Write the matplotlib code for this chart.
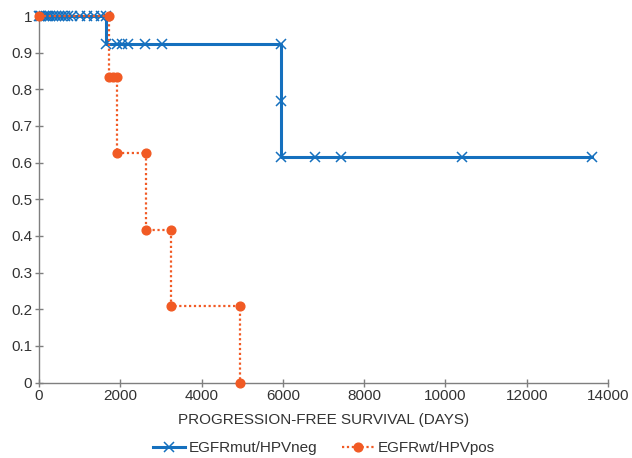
import matplotlib
matplotlib.use("Agg")
import matplotlib.pyplot as plt

plt.rcParams['font.family'] = ['Liberation Sans', 'DejaVu Sans']

# EGFRmut/HPVneg step vertices (days, survival)
mut_x = [0, 25, 60, 123, 170, 221, 280, 344, 420, 492, 560, 640, 720, 812, 1009, 1181, 1353, 1526,
         1650, 1650, 1919, 2042, 2190, 2608, 3027, 5960, 5960, 5960, 6791, 7431, 10408, 13607]
mut_y = [1, 1, 1, 1, 1, 1, 1, 1, 1, 1, 1, 1, 1, 1, 1, 1, 1, 1,
         1, 0.923, 0.923, 0.923, 0.923, 0.923, 0.923, 0.923, 0.769, 0.615, 0.615, 0.615, 0.615, 0.615]

# EGFRwt/HPVpos step vertices (days, survival)
wt_x = [0, 1722, 1722, 1820, 1920, 1920, 2630, 2630, 3250, 3250, 4950, 4950]
wt_y = [1, 1, 0.833, 0.833, 0.833, 0.625, 0.625, 0.417, 0.417, 0.208, 0.208, 0]

x_ticks = [0, 2000, 4000, 6000, 8000, 10000, 12000, 14000]
y_ticks = [0, 0.1, 0.2, 0.3, 0.4, 0.5, 0.6, 0.7, 0.8, 0.9, 1]
y_labels = ['0', '0.1', '0.2', '0.3', '0.4', '0.5', '0.6', '0.7', '0.8', '0.9', '1']

blue = '#1570be'
orange = '#f15a24'
grey = '#7f7f7f'
txt = '#333333'

fig = plt.figure(figsize=(6.32, 4.58), dpi=100)
ax = fig.add_axes([39 / 632, 75.5 / 458, 569 / 632, 366.5 / 458])

ax.plot(mut_x, mut_y, color=blue, lw=2.2, marker='x', ms=7, mew=1.1,
        mec=blue, label='EGFRmut/HPVneg', clip_on=False, zorder=3)
ax.plot(wt_x, wt_y, color=orange, lw=1.6, ls=(0, (1, 1.2)), marker='o', ms=6.3,
        mec=orange, mfc=orange, label='EGFRwt/HPVpos', clip_on=False, zorder=4)

ax.set_xlim(0, 14000)
ax.set_ylim(0, 1)
ax.set_xticks(x_ticks)
ax.set_xticklabels([str(v) for v in x_ticks])
ax.set_yticks(y_ticks)
ax.set_yticklabels(y_labels)

for s in ['top', 'right']:
    ax.spines[s].set_visible(False)
for s in ['left', 'bottom']:
    ax.spines[s].set_color(grey)
    ax.spines[s].set_linewidth(1.0)
ax.tick_params(axis='both', direction='inout', length=6, width=1.0, color=grey,
               labelsize=11, labelcolor=txt, pad=2)

ax.set_xlabel('PROGRESSION-FREE SURVIVAL (DAYS)', fontsize=11, color=txt, labelpad=7)

fig.legend(loc='center', bbox_to_anchor=(324 / 632, 1 - 448 / 458), ncol=2, frameon=False,
           fontsize=11, handlelength=2.1, columnspacing=1.6, handletextpad=0.25,
           labelcolor=txt, borderpad=0)

fig.savefig('out.png', dpi=100)
